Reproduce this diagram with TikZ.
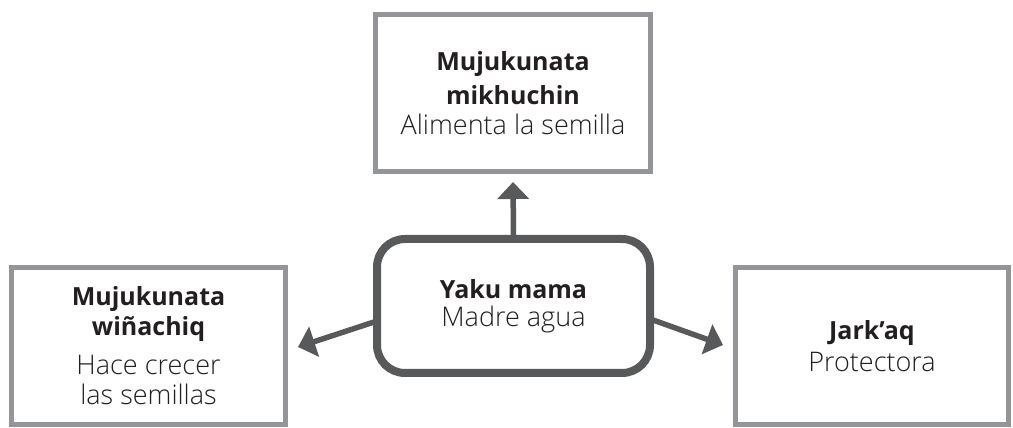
\documentclass[tikz,border=0pt]{standalone}
\usepackage{fontspec}
\setmainfont{Open Sans Light}[BoldFont={Open Sans Bold}]
\usetikzlibrary{arrows.meta,calc}
\definecolor{boxgray}{HTML}{939598}
\definecolor{darkgray}{HTML}{58595B}
\definecolor{ink}{HTML}{231F20}
% name lines (bold) and description lines (light, slightly larger)
\newcommand\nm[1]{\textbf{#1}}
\newcommand\desc[1]{{\fontsize{27}{30}\selectfont #1}}
\begin{document}
\begin{tikzpicture}[x=1pt,y=1pt,
  txt/.style={text=ink,align=center,inner sep=0pt,
    font=\fontsize{25}{30}\selectfont},
  sidebox/.style={txt,draw=boxgray,line width=5pt,fill=white},
  hubbox/.style={txt,draw=darkgray,line width=8pt,rounded corners=28pt,fill=white},
  arr/.style={draw=darkgray,line width=5.5pt,-{Triangle[width=31pt,length=17pt]}}]
\useasboundingbox (0,0) rectangle (1013,428);
% boxes
\node[sidebox,minimum width=275pt,minimum height=157pt] (top) at (513,335)
  {\nm{Mujukunata}\\[4pt]\nm{mikhuchin}\\\desc{Alimenta la semilla}};
\node[hubbox,minimum width=273pt,minimum height=134pt] (yaku) at (513.5,122)
  {\nm{Yaku mama}\\[-2pt]\desc{Madre agua}};
\node[sidebox,minimum width=274pt,minimum height=157pt] (left) at (148.5,82)
  {\nm{Mujukunata}\\\nm{wiñachiq}\\[9pt]\desc{Hace crecer}\\\desc{las semillas}};
\node[sidebox,minimum width=273pt,minimum height=157pt] (right) at (872,82)
  {\nm{Jark’aq}\\[2pt]\desc{Protectora}};
% arrow ends
\coordinate (topend) at ($(top.south)+(0,-8)$);
\coordinate (lstart) at ($(yaku.west)+(1,-16)$);
\coordinate (lend) at ($(left.east)+(10,-1)$);
\coordinate (rstart) at ($(yaku.east)+(-1,-14)$);
\coordinate (rend) at ($(right.west)+(-10,1)$);
% arrows
\draw[arr] (yaku.north) -- (topend);
\draw[arr] (lstart) -- (lend);
\draw[arr] (rstart) -- (rend);
\end{tikzpicture}
\end{document}
